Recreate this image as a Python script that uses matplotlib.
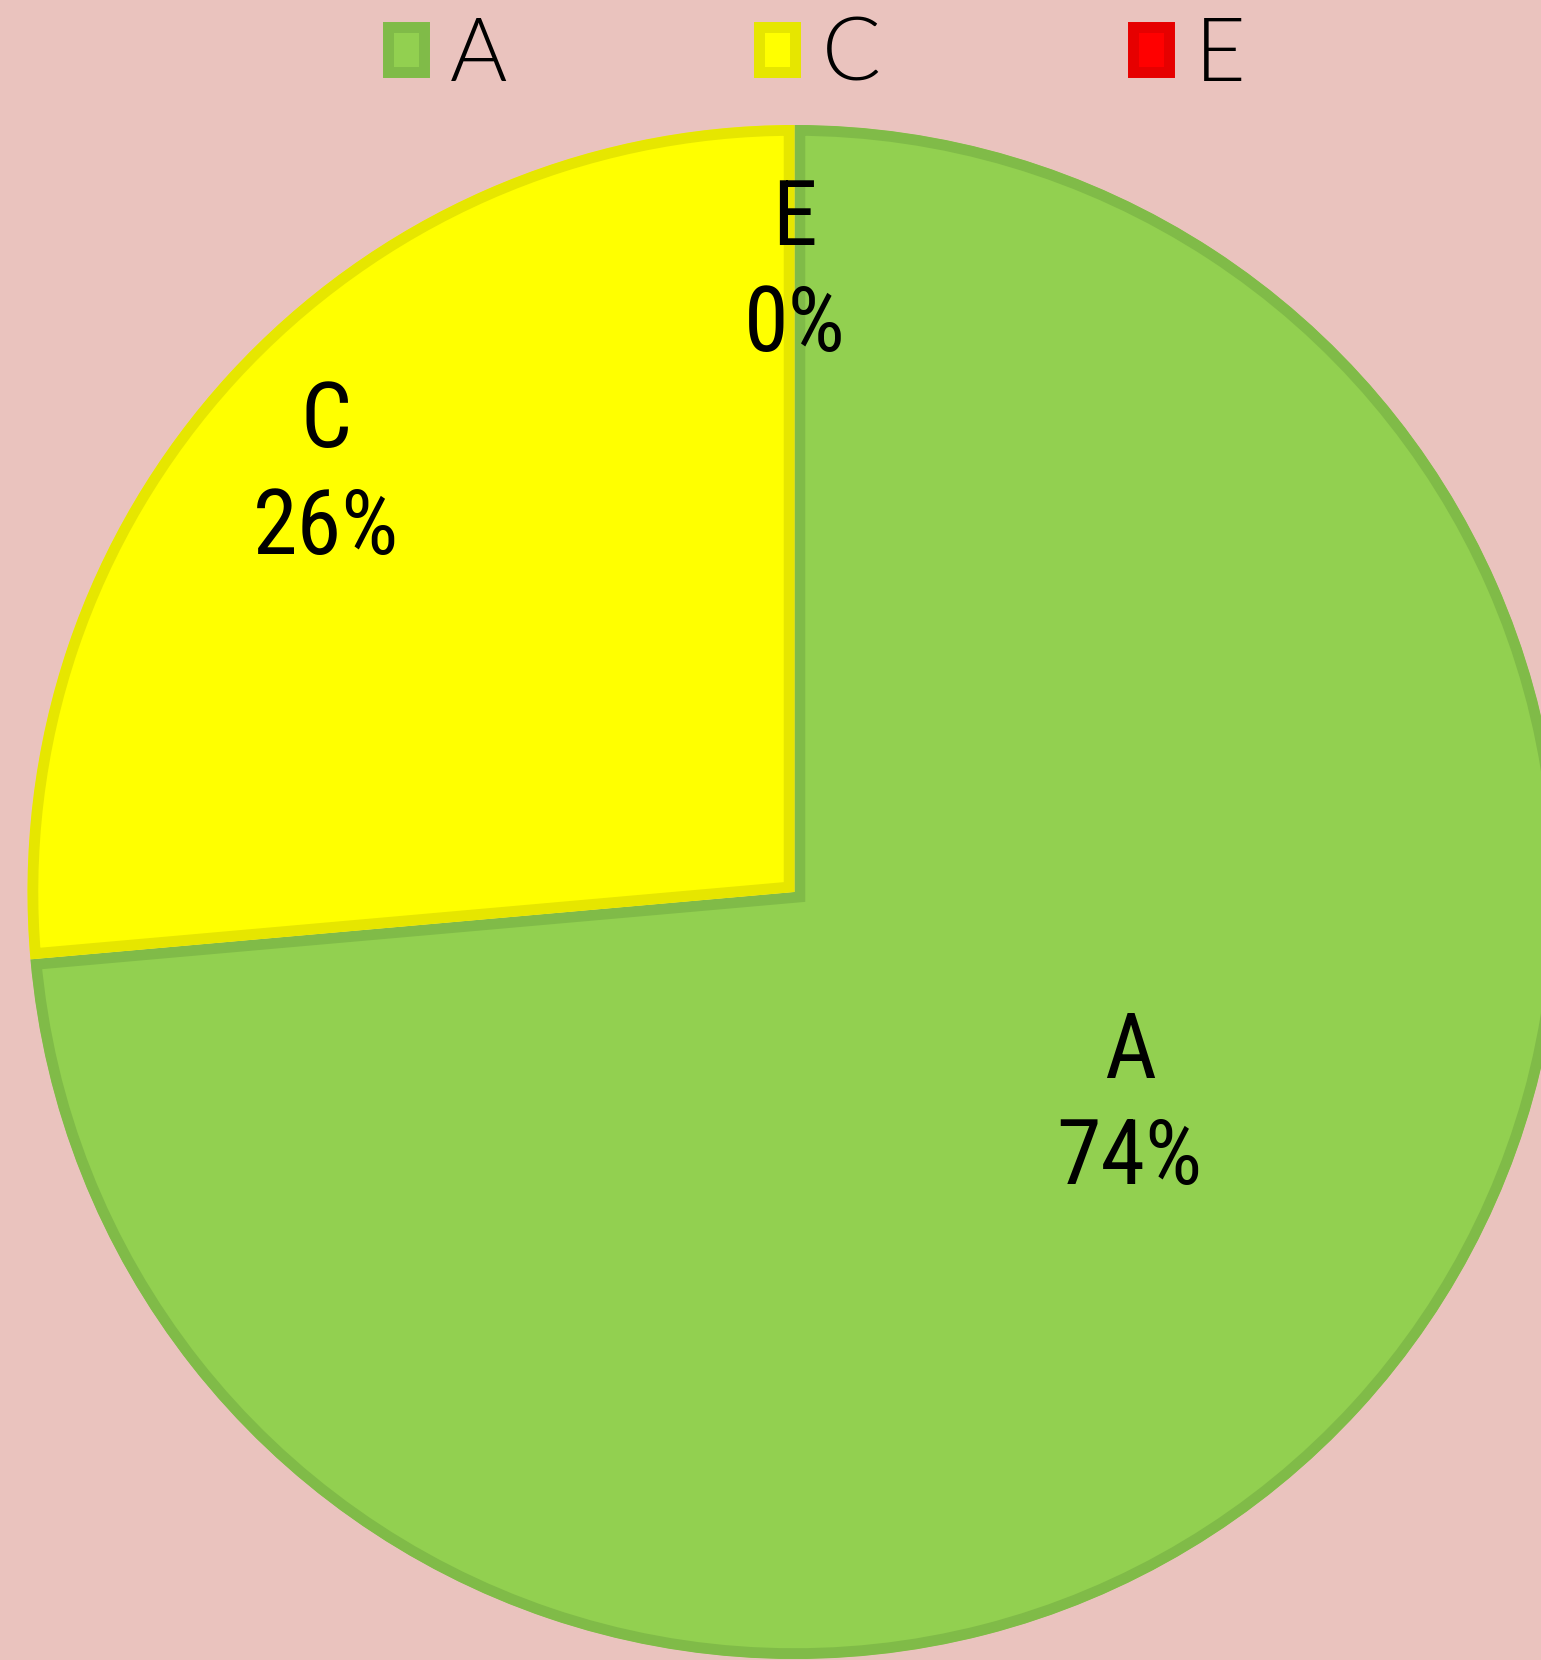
import matplotlib
matplotlib.use('Agg')
import matplotlib.pyplot as plt
from matplotlib.patches import Rectangle

names = ['A', 'C', 'E']
values = [73.6, 26.4, 0.0]
fill_colors = ['#92D050', '#FFFF00', '#FF0000']
edge_colors = ['#80BB48', '#E6E600', '#E60000']

# where the data labels sit, in pie radius units
label_pos = [(0.437, -0.279), (-0.611, 0.543), (0.0, 0.807)]

bg = '#EAC3BE'
label_font = ['Roboto Condensed', 'Archivo Narrow', 'DejaVu Sans']
legend_font = ['Lato', 'DejaVu Sans']

# pie centre and radius in pixels
cx, cy, r = 794.5, 892, 767


def draw_pie(ax):
    wedges, _ = ax.pie(values, colors=fill_colors, startangle=90, counterclock=False,
                       radius=1, center=(0, 0), frame=True)
    for w, ec in zip(wedges, edge_colors):
        # border drawn inside each slice only
        w.set_edgecolor(ec)
        w.set_linewidth(15.5)
        w.set_clip_on(True)
        w.set_clip_path(w)
    total = sum(values)
    for name, v, (x, y) in zip(names, values, label_pos):
        ax.text(x, y, f"{name}\n{round(100 * v / total)}%", ha='center', va='center',
                fontsize=65, family=label_font, linespacing=1.3, color='black')


def draw_legend(fig):
    handles = [Rectangle((0, 0), 1, 1, facecolor=fc, edgecolor=ec, linewidth=7.9)
               for fc, ec in zip(fill_colors, edge_colors)]
    fig.legend(handles, names, loc='upper center', bbox_to_anchor=(0.530, 1.038), ncol=3,
               frameon=False, handlelength=0.41, handleheight=0.41, handletextpad=0.3,
               columnspacing=2.88, prop={'family': legend_font, 'size': 63, 'weight': 300})


fig = plt.figure(figsize=(15.41, 16.60), dpi=100, facecolor=bg)
ax = fig.add_axes([0, 0, 1, 1])
ax.set_facecolor(bg)
draw_pie(ax)
ax.set_aspect('auto')
ax.set_xlim(-cx / r, (1541 - cx) / r)
ax.set_ylim((cy - 1660) / r, cy / r)
ax.axis('off')
draw_legend(fig)
fig.savefig('out.png', dpi=100, facecolor=bg)
